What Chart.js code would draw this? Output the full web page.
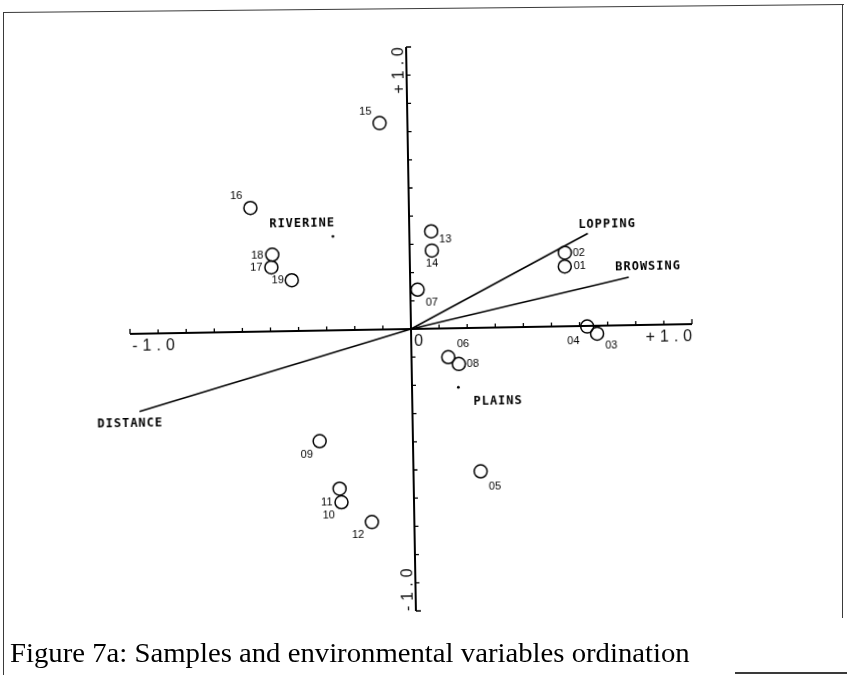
<!DOCTYPE html>
<html>
<head>
<meta charset="utf-8">
<script src="https://cdn.jsdelivr.net/npm/chart.js@4.4.1/dist/chart.umd.min.js"></script>
<style>
  html, body { margin: 0; padding: 0; background: #fff; width: 847px; height: 675px; overflow: hidden; }
  #plot { position: absolute; left: 0; top: 0; width: 847px; height: 675px; transform: rotate(-1deg); transform-origin: 411px 329px; }
  #plot canvas { display: block; }
  .fl { position: absolute; background: #3a3a3a; }
  #ftop { left: 4px; top: 12px; width: 840px; height: 1.4px; transform-origin: 0 0; transform: rotate(-0.55deg); }
  #fleft { left: 3px; top: 12px; width: 1.4px; height: 663px; }
  #fright { left: 842px; top: 4px; width: 1.4px; height: 614px; }
  #fbottom { left: 735px; top: 672px; width: 112px; height: 1.6px; }
  #caption { position: absolute; left: 10px; top: 637px; font-family: "Liberation Serif", serif; font-size: 28px; color: #000; white-space: nowrap; transform-origin: 0 50%; }
</style>
</head>
<body>
<div id="plot"><canvas id="c" width="847" height="675"></canvas></div>
<div class="fl" id="ftop"></div>
<div class="fl" id="fleft"></div>
<div class="fl" id="fright"></div>
<div class="fl" id="fbottom"></div>
<div id="caption">Figure 7a: Samples and environmental variables ordination</div>
<script>
// ---- data ----
const sampleIds = ['01','02','03','04','05','06','07','08','09','10','11','12','13','14','15','16','17','18','19'];
const sampleX   = [0.551, 0.552, 0.662, 0.627, 0.239, 0.131, 0.026, 0.168, -0.332, -0.258, -0.264, -0.151, 0.078, 0.079, -0.099, -0.564, -0.493, -0.489, -0.421];
const sampleY   = [0.212, 0.261, -0.028, -0.002, -0.509, -0.102, 0.139, -0.127, -0.392, -0.610, -0.562, -0.682, 0.345, 0.277, 0.732, 0.439, 0.227, 0.272, 0.180];

const envNames = ['LOPPING', 'BROWSING', 'DISTANCE'];
const envX     = [0.635, 0.778, -0.971];
const envY     = [0.328, 0.170, -0.276];

const nominalNames = ['RIVERINE', 'PLAINS'];
const nominalX     = [-0.272, 0.165];
const nominalY     = [0.333, -0.210];

const axisTickValues = [-1.0, -0.9, -0.8, -0.7, -0.6, -0.5, -0.4, -0.3, -0.2, -0.1, 0, 0.1, 0.2, 0.3, 0.4, 0.5, 0.6, 0.7, 0.8, 0.9, 1.0];
const xTickLabels = ['-1.0', '0', '+1.0'];
const yTickLabels = ['-1.0', '+1.0'];

// ---- label placement (pixel offsets from the mark) ----
const sampleLabelOffset = {
  '01': [15, 0], '02': [14, 1], '03': [14, 12], '04': [-14, 14], '05': [14, 15],
  '06': [15, -13], '07': [14, 13], '08': [14, 0], '09': [-13, 13], '10': [-13, 13],
  '11': [-13, 13], '12': [-14, 13], '13': [14, 8], '14': [0, 13], '15': [-14, -12],
  '16': [-14, -12], '17': [-15, 0], '18': [-15, 1], '19': [-14, 0]
};
const envLabelOffset = { 'LOPPING': [19, -9], 'BROWSING': [19, -10], 'DISTANCE': [-10, 12] };
const nominalLabelOffset = { 'RIVERINE': [-31, -13], 'PLAINS': [39, 15] };

const INK = '#000';

function drawSpaced(ctx, text, x, y, spacing, align) {
  const widths = [...text].map(ch => ctx.measureText(ch).width);
  const total = widths.reduce((a, b) => a + b, 0) + spacing * (widths.length - 1);
  let cx = align === 'right' ? x - total : (align === 'center' ? x - total / 2 : x);
  const saved = ctx.textAlign;
  ctx.textAlign = 'left';
  [...text].forEach((ch, i) => { ctx.fillText(ch, cx, y); cx += widths[i] + spacing; });
  ctx.textAlign = saved;
}

const ordinationDecor = {
  id: 'ordinationDecor',
  beforeDatasetsDraw(chart) {
    const { ctx, scales: { x, y } } = chart;
    const x0 = x.getPixelForValue(0), y0 = y.getPixelForValue(0);
    const first = axisTickValues[0], last = axisTickValues[axisTickValues.length - 1];
    ctx.save();
    ctx.strokeStyle = INK;
    ctx.lineCap = 'butt';
    // axis lines
    ctx.lineWidth = 2;
    ctx.beginPath();
    ctx.moveTo(x.getPixelForValue(first), y0);
    ctx.lineTo(x.getPixelForValue(last), y0);
    ctx.moveTo(x0, y.getPixelForValue(last));
    ctx.lineTo(x0, y.getPixelForValue(first));
    ctx.stroke();
    // tick marks
    ctx.lineWidth = 1.3;
    ctx.beginPath();
    axisTickValues.forEach(v => {
      if (v === 0) return;
      const len = Math.abs(v) === 1 ? 5 : 4;
      const px = x.getPixelForValue(v);
      ctx.moveTo(px, y0); ctx.lineTo(px, y0 - len);
      const py = y.getPixelForValue(v);
      ctx.moveTo(x0, py); ctx.lineTo(x0 + len, py);
    });
    ctx.stroke();
    // tick labels
    ctx.fillStyle = '#111';
    ctx.font = '16px "Liberation Sans", Arial, sans-serif';
    ctx.textBaseline = 'alphabetic';
    drawSpaced(ctx, xTickLabels[0], x.getPixelForValue(first) + 2, y0 + 16.5, 5, 'left');
    drawSpaced(ctx, xTickLabels[1], x0 + 3, y0 + 16.5, 5, 'left');
    drawSpaced(ctx, xTickLabels[2], x.getPixelForValue(last), y0 + 16.5, 5, 'right');
    // vertical axis labels, rotated
    ctx.save();
    ctx.translate(x0 - 3, y.getPixelForValue(last));
    ctx.rotate(-Math.PI / 2);
    drawSpaced(ctx, yTickLabels[1], 0, 0, 5, 'right');
    ctx.restore();
    ctx.save();
    ctx.translate(x0 - 3, y.getPixelForValue(first));
    ctx.rotate(-Math.PI / 2);
    drawSpaced(ctx, yTickLabels[0], 0, 0, 5, 'left');
    ctx.restore();
    ctx.restore();
  },
  afterDatasetsDraw(chart) {
    const { ctx, scales: { x, y } } = chart;
    ctx.save();
    ctx.fillStyle = INK;
    ctx.textAlign = 'center';
    ctx.textBaseline = 'middle';
    ctx.font = '11px "Liberation Sans", Arial, sans-serif';
    sampleIds.forEach((id, i) => {
      const o = sampleLabelOffset[id];
      ctx.fillText(id, x.getPixelForValue(sampleX[i]) + o[0], y.getPixelForValue(sampleY[i]) + o[1]);
    });
    ctx.font = 'bold 12px "DejaVu Sans Mono", monospace';
    envNames.forEach((n, i) => {
      const o = envLabelOffset[n];
      drawSpaced(ctx, n, x.getPixelForValue(envX[i]) + o[0], y.getPixelForValue(envY[i]) + o[1], 1, 'center');
    });
    nominalNames.forEach((n, i) => {
      const o = nominalLabelOffset[n];
      drawSpaced(ctx, n, x.getPixelForValue(nominalX[i]) + o[0], y.getPixelForValue(nominalY[i]) + o[1], 1, 'center');
    });
    ctx.restore();
  }
};

const envDatasets = envNames.map((n, i) => ({
  label: n,
  type: 'line',
  data: [{ x: 0, y: 0 }, { x: envX[i], y: envY[i] }],
  borderColor: INK,
  borderWidth: 1.6,
  pointRadius: 0,
  fill: false,
  clip: false
}));

new Chart(document.getElementById('c'), {
  type: 'scatter',
  data: {
    datasets: [
      ...envDatasets,
      {
        label: 'Samples',
        data: sampleX.map((v, i) => ({ x: v, y: sampleY[i] })),
        pointStyle: 'circle',
        pointRadius: 6.5,
        borderColor: INK,
        borderWidth: 1.5,
        backgroundColor: 'rgba(0,0,0,0)',
        clip: false
      },
      {
        label: 'Centroids',
        data: nominalX.map((v, i) => ({ x: v, y: nominalY[i] })),
        pointRadius: 1.4,
        borderWidth: 0,
        backgroundColor: INK,
        clip: false
      }
    ]
  },
  options: {
    responsive: false,
    animation: false,
    events: [],
    layout: { padding: { left: 130, right: 155, top: 47, bottom: 64 } },
    scales: {
      x: { type: 'linear', min: -1, max: 1, display: false },
      y: { type: 'linear', min: -1, max: 1, display: false }
    },
    plugins: { legend: { display: false }, tooltip: { enabled: false } }
  },
  plugins: [ordinationDecor]
});

// fit caption width to the printed figure caption span
const cap = document.getElementById('caption');
const w = cap.getBoundingClientRect().width;
cap.style.transform = 'scaleX(' + (680 / w).toFixed(3) + ')';
</script>
</body>
</html>
